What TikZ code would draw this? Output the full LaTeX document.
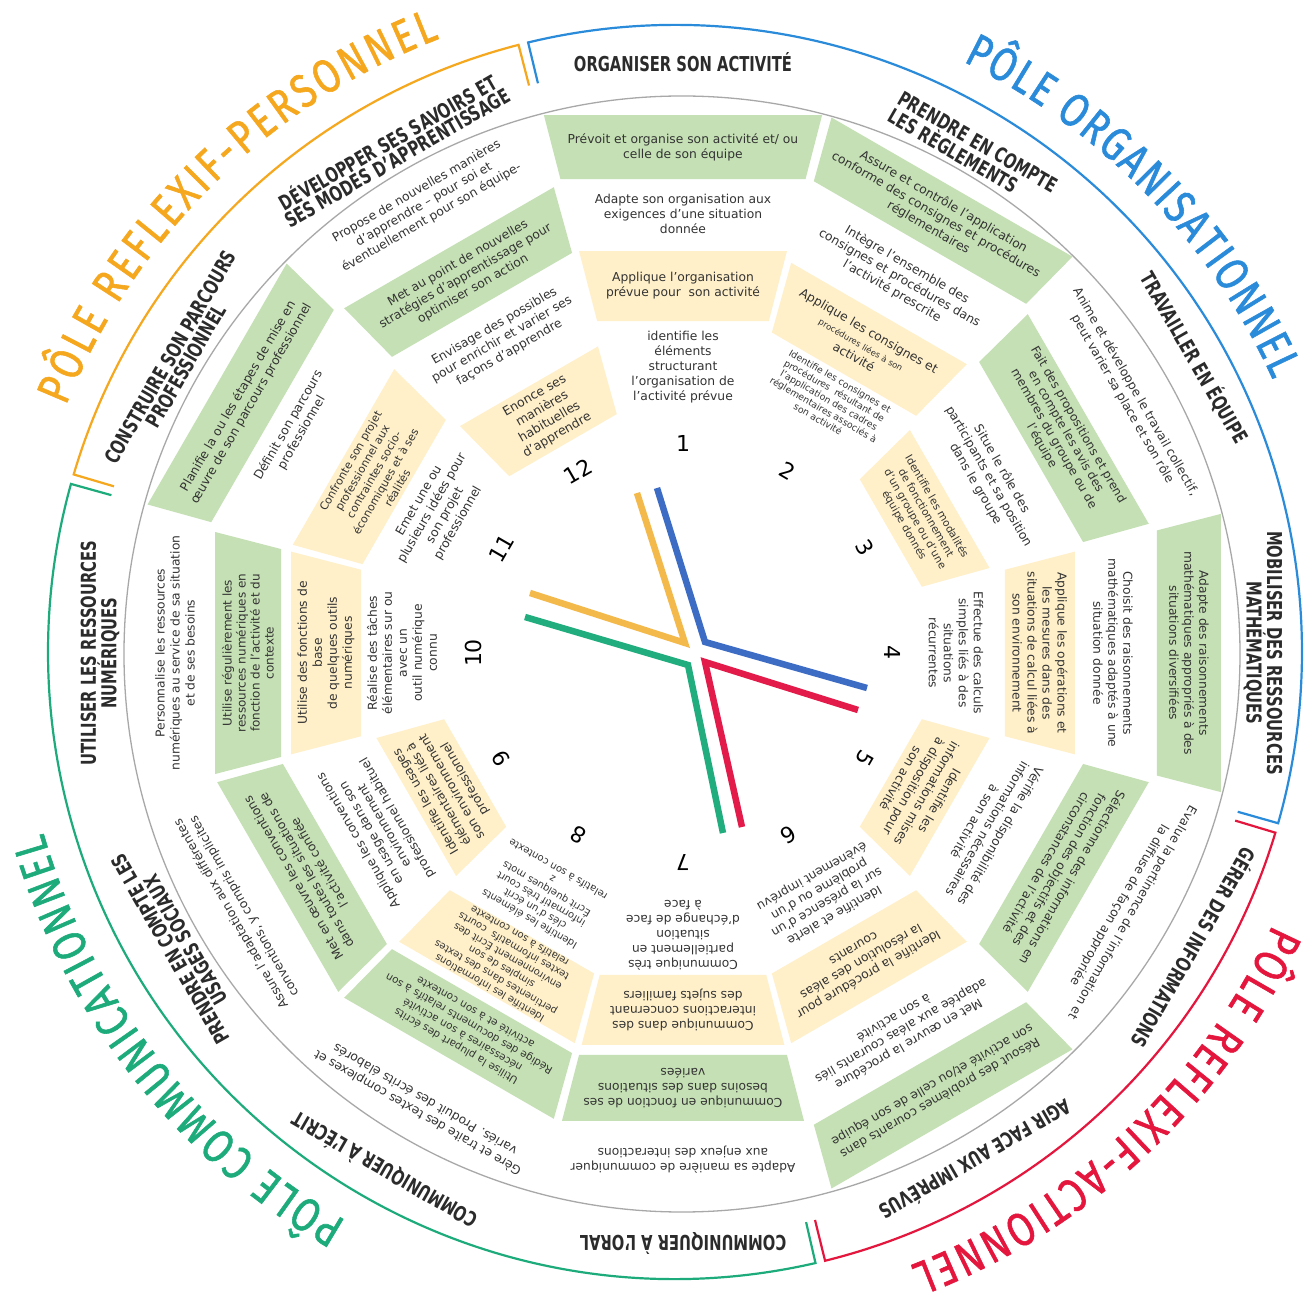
\documentclass[tikz,border=0pt]{standalone}
\usepackage{fontspec}
\usetikzlibrary{decorations.text}
\setmainfont{DejaVu Sans}
\newfontfamily\bodyfont{DejaVu Sans}
\newfontfamily\labelfont[FakeStretch=0.72]{DejaVu Sans}
\newfontfamily\polefont[FakeStretch=0.8,FakeBold=1.2]{Fira Sans}

\definecolor{boxgreen}{HTML}{C5E0B4}
\definecolor{boxyellow}{HTML}{FFF0C9}
\definecolor{poleorange}{HTML}{F5A71E}
\definecolor{poleblue}{HTML}{2A8BDA}
\definecolor{polered}{HTML}{E5163D}
\definecolor{polegreen}{HTML}{1DAB7B}
\definecolor{handorange}{HTML}{F3B94A}
\definecolor{handblue}{HTML}{3D6CC5}
\definecolor{handred}{HTML}{E31B4A}
\definecolor{handgreen}{HTML}{22AD7E}
\definecolor{txt}{HTML}{333333}
\definecolor{labtxt}{HTML}{2B2B2B}
\definecolor{ringgray}{HTML}{A8A8A8}

% ring bounds (apothems of the trapezoid cells)
\newcommand\ringin[1]{\ifcase#1\or240\or322\or402\or474\fi}
\newcommand\ringout[1]{\ifcase#1\or308\or392\or468\or538\fi}
\def\boxshift{0}

% coloured cell: [options]{sector}{ring}{fill}{text}
\newcommand\skillbox[5][]{%
  \pgfmathsetmacro\ang{90-30*(#2-1)}%
  \pgfmathsetmacro\ra{(\ringin{#3}+\boxshift)/cos(14.5)}%
  \pgfmathsetmacro\rb{(\ringout{#3}+\boxshift)/cos(14.5)}%
  \pgfmathsetmacro\rc{(\ringin{#3}+\ringout{#3})/2+\boxshift}%
  \fill[#4] (\ang-14.5:\ra) -- (\ang+14.5:\ra) -- (\ang+14.5:\rb) -- (\ang-14.5:\rb) -- cycle;
  \node[skill,rotate=\ang-90,#1] (s#2r#3) at (\ang:\rc) {#5};}

% plain text cell: [options]{sector}{radius}{text}
\newcommand\skilltext[4][]{%
  \pgfmathsetmacro\ang{90-30*(#2-1)}%
  \node[skill,rotate=\ang-90,#1] (t#2x#3) at (\ang:#3) {#4};}

% sector title: [options]{sector}{radius}{text}
\newcommand\sectorlabel[4][]{%
  \pgfmathsetmacro\ang{90-30*(#2-1)}%
  \node[seclabel,rotate=\ang-90,#1] (lab#2) at (\ang:#3) {#4};}

% pole arc with end ticks: colour, start, end
\newcommand\polearc[3]{%
  \draw[polearcstyle,#1] ([shift={(-8,1)}]#2:585) -- ([shift={(-8,1)}]#2:627)
    arc[start angle=#2, end angle=#3, radius=627] -- ([shift={(-8,1)}]#3:585);}

% curved pole title: colour, start, end, text
\newcommand\poletext[4]{%
  \path[decorate,decoration={text along path, text align={fit to path},
    text={|\polefont\fontsize{47}{47}\selectfont\color{#1}|#4}}]
    ([shift={(-8,1)}]#2:657) arc[start angle=#2, end angle=#3, radius=657];}

\begin{document}
\begin{tikzpicture}[x=1pt,y=1pt,
  skill/.style={align=center, inner sep=0pt, text=txt,
    font=\bodyfont\fontsize{12.3}{15}\selectfont},
  seclabel/.style={align=center, inner sep=0pt, text=labtxt,
    font=\labelfont\bfseries\fontsize{20.5}{18}\selectfont},
  num/.style={inner sep=0pt, text=black, font=\bodyfont\fontsize{22}{22}\selectfont},
  hand/.style={line width=6.5pt, line join=miter},
  polearcstyle/.style={line width=2.2pt, line join=miter}]

\useasboundingbox (-683,-644) rectangle (623,653);
\fill[white] (-683,-644) rectangle (623,653);

% outer pole arcs
\polearc{poleblue}{103.55}{-15.85}
\polearc{polered}{-16.75}{-76.15}
\polearc{polegreen}{-77.05}{-195.55}
\polearc{poleorange}{163.55}{104.45}

\poletext{poleblue}{64}{24.5}{PÔLE ORGANISATIONNEL}
\poletext{polered}{-24.5}{-69}{PÔLE REFLEXIF-ACTIONNEL}
\poletext{polegreen}{-120}{-164}{PÔLE COMMUNICATIONNEL}
\poletext{poleorange}{158}{111}{PÔLE REFLEXIF-PERSONNEL}

% inner grey circle
\draw[ringgray, line width=1.3pt] (-1,-1) circle[radius=558];

% sector titles
\sectorlabel{1}{591}{ORGANISER SON ACTIVITÉ}
\sectorlabel[align=left]{2}{580}{PRENDRE EN COMPTE\\LES RÈGLEMENTS}
\sectorlabel{3}{591}{TRAVAILLER EN ÉQUIPE}
\sectorlabel{4}{580}{MOBILISER DES RESSOURCES\\MATHÉMATIQUES}
\sectorlabel{5}{591}{GÉRER DES INFORMATIONS}
\sectorlabel{6}{586}{AGIR FACE AUX IMPRÉVUS}
\sectorlabel{7}{591}{COMMUNIQUER À L’ORAL}
\sectorlabel{8}{597}{COMMUNIQUER À L’ÉCRIT}
\sectorlabel{9}{583}{PRENDRE EN COMPTE LES\\USAGES SOCIAUX}
\sectorlabel{10}{583}{UTILISER LES RESSOURCES\\NUMÉRIQUES}
\sectorlabel{11}{583}{CONSTRUIRE SON PARCOURS\\PROFESSIONNEL}
\sectorlabel{12}{582}{DÉVELOPPER SES SAVOIRS ET\\SES MODES D’APPRENTISSAGE}

% sector 1
\skilltext{1}{286}{identifie les\\éléments\\structurant\\l’organisation de\\l’activité prévue}
\def\boxshift{10}
\skillbox{1}{2}{boxyellow}{Applique l’organisation\\prévue pour\ \ son activité}
\def\boxshift{0}
\skilltext{1}{439}{Adapte son organisation aux\\exigences d’une situation\\donnée}
\skillbox{1}{4}{boxgreen}{Prévoit et organise son activité et/ ou\\celle de son équipe}

% sector 2
\skilltext[font=\bodyfont\fontsize{9.3}{11}\selectfont]{2}{292}{Identifie les consignes et\\procédures\ \ résultant de\\l’application des cadres\\réglementaires associés à\\son activité}
\skillbox{2}{2}{boxyellow}{Applique les consignes et\\{\fontsize{8.5}{10}\selectfont procédures liées à son}\\activité}
\skilltext{2}{433}{Intègre l’ensemble des\\consignes et procédures dans\\l’activité prescrite}
\skillbox{2}{4}{boxgreen}{Assure et contrôle l’application\\conforme des consignes et procédures\\réglementaires}

% sector 3
\skillbox[font=\bodyfont\fontsize{10.5}{12.5}\selectfont]{3}{1}{boxyellow}{Identifie les modalités\\de fonctionnement\\d’un groupe ou d’une\\équipe donnés}
\skilltext{3}{353}{Situe le rôle des\\participants et sa position\\dans le groupe}
\skillbox[font=\bodyfont\fontsize{12}{14}\selectfont]{3}{3}{boxgreen}{Fait des propositions et prend\\en compte les avis des\\membres du groupe ou de\\l’équipe}
\skilltext{3}{515}{Anime et développe le travail collectif,\\peut varier sa place et son rôle}

% sector 4
\skilltext{4}{273}{Effectue des calculs\\simples liés à des\\situations\\récurrentes}
\skillbox{4}{2}{boxyellow}{Applique les opérations et\\les mesures dans des\\situations de calcul liées à\\son environnement}
\skilltext{4}{430}{Choisit des raisonnements\\mathématiques adaptés à une\\situation donnée}
\skillbox{4}{4}{boxgreen}{Adapte des raisonnements\\mathématiques appropriés à des\\situations diversifiées}

% sector 5
\skillbox{5}{1}{boxyellow}{Identifie les\\informations mises\\à disposition pour\\son activité}
\skilltext{5}{352}{Vérifie la disponibilité des\\informations nécessaires\\à son activité}
\skillbox{5}{3}{boxgreen}{Sélectionne des informations en\\fonction des objectifs et des\\circonstances de l’activité}
\skilltext{5}{511}{Evalue la pertinence de l’information et\\la diffuse de façon appropriée}

% sector 6
\skilltext{6}{280}{Identifie et alerte\\sur la présence d’un\\problème ou d’un\\évènement imprévu}
\skillbox{6}{2}{boxyellow}{Identifie la procédure pour\\la résolution des aléas\\courants}
\skilltext{6}{437}{Met en œuvre la procédure\\adaptée aux aléas courants liés\\à son activité}
\skillbox{6}{4}{boxgreen}{Résout des problèmes courants dans\\son activité et/ou celle de son équipe}

% sector 7
\skilltext{7}{282}{Communique très\\partiellement en\\situation\\d’échange de face\\à face}
\skillbox{7}{2}{boxyellow}{Communique dans des\\interactions concernant\\des sujets familiers}
\skillbox{7}{3}{boxgreen}{Communique en fonction de ses\\besoins dans des situations\\variées}
\skilltext{7}{507}{Adapte sa manière de communiquer\\aux enjeux des interactions}

% sector 8
\skilltext[font=\bodyfont\fontsize{10}{11.5}\selectfont]{8}{279}{Identifie les éléments\\clés d’un écrit\\informatif très court\\Écrit quelques mots\\z\\relatifs à son contexte}
\skillbox[font=\bodyfont\fontsize{10}{12}\selectfont]{8}{2}{boxyellow}{Identifie les informations\\pertinentes dans des textes\\simples de son\\environnement Écrit des\\textes informatifs\ \ courts\\relatifs à son contexte}
\skillbox[font=\bodyfont\fontsize{10.5}{13}\selectfont]{8}{3}{boxgreen}{Utilise la plupart des écrits\\nécessaires à son activité\\Rédige des documents relatifs à son\\activité et à son contexte}
\skilltext{8}{524}{Gère et traite des textes complexes et\\variés. Produit des écrits élaborés}

% sector 9
\skillbox{9}{1}{boxyellow}{Identifie les usages\\élémentaires liés à\\son environnement\\professionnel}
\skilltext{9}{352}{Applique les conventions\\en usage dans son\\environnement\\professionnel habituel}
\skillbox{9}{3}{boxgreen}{Met en œuvre les conventions\\dans toutes les situations de\\l’activité confiée}
\skilltext{9}{514}{Assure l’adaptation aux différentes\\conventions, y compris implicites}

% sector 10
\skilltext{10}{281}{Réalise des tâches\\élémentaires sur ou\\avec un\\outil numérique\\connu}
\skillbox{10}{2}{boxyellow}{Utilise des fonctions de\\base\\de quelques outils\\numériques}
\skillbox[font=\bodyfont\fontsize{12}{14}\selectfont]{10}{3}{boxgreen}{Utilise régulièrement les\\ressources numériques en\\fonction de l’activité et du\\contexte}
\skilltext{10}{508}{Personnalise les ressources\\numériques au service de sa situation\\et de ses besoins}

% sector 11
\skilltext{11}{282}{Emet une ou\\plusieurs idées pour\\son projet\\professionnel}
\skillbox[font=\bodyfont\fontsize{11}{13.5}\selectfont]{11}{2}{boxyellow}{Confronte son projet\\professionnel aux\\contraintes socio-\\économiques et à ses\\réalités}
\skilltext{11}{448}{Définit son parcours\\professionnel}
\skillbox{11}{4}{boxgreen}{Planifie la ou les étapes de mise en\\œuvre de son parcours professionnel}

% sector 12
\skillbox[font=\bodyfont\fontsize{12.5}{15}\selectfont]{12}{1}{boxyellow}{Enonce ses\\manières\\habituelles\\d’apprendre}
\skilltext{12}{362}{Envisage des possibles\\pour enrichir et varier ses\\façons d’apprendre}
\skillbox{12}{3}{boxgreen}{Met au point de nouvelles\\stratégies d’apprentissage pour\\optimiser son action}
\skilltext{12}{518}{Propose de nouvelles manières\\d’apprendre – pour soi et\\éventuellement pour son équipe-}

% clock numbers
\foreach \k in {1,...,12}{
  \pgfmathsetmacro\ang{90-30*(\k-1)}
  \node[num, rotate=\ang-90] (num\k) at (\ang:210) {\k};
}

% clock hands
\draw[hand, handorange] (-46,160) -- (2,10) -- (-153,60);
\draw[hand, handblue] (-26,165) -- (22,11) -- (184,-35);
\draw[hand, handred] (175,-57) -- (22,-9) -- (59,-174);
\draw[hand, handgreen] (-158,36) -- (5,-12) -- (40,-180);

\end{tikzpicture}
\end{document}
